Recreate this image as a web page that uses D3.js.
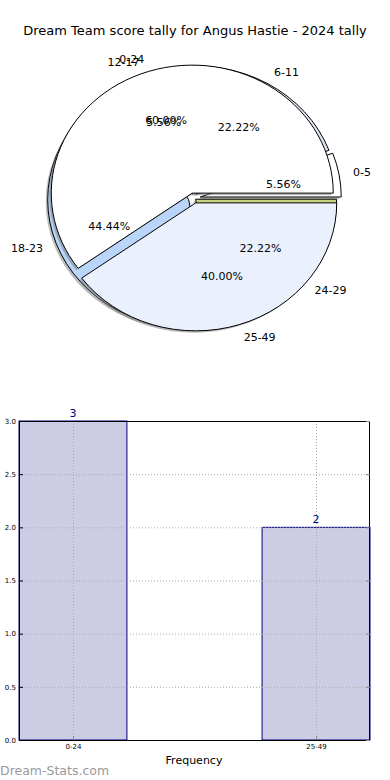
<!DOCTYPE html>
<html><head><meta charset="utf-8">
<script src="https://cdn.jsdelivr.net/npm/d3@7/dist/d3.min.js"></script>
<style>body{margin:0;background:#fff}svg{display:block;font-family:"DejaVu Sans",sans-serif}</style>
</head><body>
<svg id="c" width="390" height="780"></svg>
<script>
const title = "Dream Team score tally for Angus Hastie - 2024 tally";
// fine bins pie (drawn underneath)
const fineLabels = ["0-5","6-11","12-17","18-23","24-29"];
const fineValues = [1,4,1,8,4];
const fineExplode = [0.045,0.035,0.03,0.04,0.015];
const fineColors = ["#ffffff","#dde6f2","#e4e4f2","#b9d5fa","#c9d27c"];
// coarse bins pie (drawn on top)
const coarseLabels = ["0-24","25-49"];
const coarseValues = [3,2];
const coarseExplode = [0.04,0.04];
const coarseColors = ["#ffffff","#ebf1fc"];
// bar chart
const barCats = ["0-24","25-49"];
const barValues = [3,2];
const yTicks = [0,0.5,1.0,1.5,2.0,2.5,3.0];

const svg = d3.select("#c");
svg.append("text").attr("x",195).attr("y",35).attr("text-anchor","middle")
  .attr("font-size",13).attr("fill","#000").text(title);

const cx = 194, cy = 198, rx = 141, ry = 128;
const sy = ry/rx;
const pieGen = d3.pie().sort(null).startAngle(Math.PI/2).endAngle(Math.PI/2 - 2*Math.PI);
const arc = d3.arc().innerRadius(0).outerRadius(rx);
const pieLayer = svg.append("g");
const shadowLayer1 = pieLayer.append("g").attr("transform",`translate(${cx-2},${cy+2}) scale(1,${sy})`);
const fineLayer = pieLayer.append("g").attr("transform",`translate(${cx},${cy}) scale(1,${sy})`);
const shadowLayer2 = pieLayer.append("g").attr("transform",`translate(${cx-2},${cy+2}) scale(1,${sy})`);
const coarseLayer = pieLayer.append("g").attr("transform",`translate(${cx},${cy}) scale(1,${sy})`);
const textLayer = pieLayer.append("g");

function drawPie(values, labels, explode, colors, layer, shadowLayer){
  const arcs = pieGen(values);
  const total = d3.sum(values);
  arcs.forEach((a,i)=>{
    const mid = (a.startAngle+a.endAngle)/2;
    const ux = Math.sin(mid), uy = -Math.cos(mid);
    const e = explode[i];
    shadowLayer.append("path").attr("d",arc(a))
      .attr("transform",`translate(${ux*e*rx},${uy*e*rx})`)
      .attr("fill","#777").attr("fill-opacity",0.5);
    layer.append("path").attr("d",arc(a))
      .attr("transform",`translate(${ux*e*rx},${uy*e*rx})`)
      .attr("fill",colors[i]).attr("stroke","#000").attr("stroke-width",1)
      .attr("vector-effect","non-scaling-stroke").attr("stroke-linejoin","round");
    const ld = 1.1 + e, pd = 0.6 + e;
    textLayer.append("text")
      .attr("x", cx + ux*ld*rx).attr("y", cy + uy*ld*ry)
      .attr("dy","0.35em").attr("font-size",11)
      .attr("text-anchor", ux > 0 ? "start" : "end")
      .text(labels[i]);
    textLayer.append("text")
      .attr("x", cx + ux*pd*rx).attr("y", cy + uy*pd*ry)
      .attr("dy","0.35em").attr("font-size",11).attr("text-anchor","middle")
      .text((values[i]/total*100).toFixed(2)+"%");
  });
}
drawPie(fineValues, fineLabels, fineExplode, fineColors, fineLayer, shadowLayer1);
drawPie(coarseValues, coarseLabels, coarseExplode, coarseColors, coarseLayer, shadowLayer2);

// bar chart
const L = 19, R = 370, T = 421, B = 740;
const x = d3.scaleLinear().domain([-0.222, 1.222]).range([L, R]);
const y = d3.scaleLinear().domain([0, 3]).range([B, T]);
const bw = 0.444;
const g = svg.append("g");
g.selectAll("rect.bar").data(barValues).join("rect").attr("class","bar")
  .attr("x",(d,i)=>x(i-bw/2)).attr("width",(d,i)=>x(i+bw/2)-x(i-bw/2))
  .attr("y",d=>y(d)).attr("height",d=>y(0)-y(d))
  .attr("fill","#ccccE4").attr("stroke","#000080").attr("stroke-width",1);
g.selectAll("line.hg").data(yTicks).join("line").attr("class","hg")
  .attr("x1",L).attr("x2",R).attr("y1",d=>y(d)+0.5).attr("y2",d=>y(d)+0.5)
  .attr("stroke","#aaaaaa").attr("stroke-dasharray","1,2").attr("stroke-width",1);
g.selectAll("line.vg").data(barCats).join("line").attr("class","vg")
  .attr("x1",(d,i)=>Math.round(x(i))+0.5).attr("x2",(d,i)=>Math.round(x(i))+0.5).attr("y1",T).attr("y2",B)
  .attr("stroke","#aaaaaa").attr("stroke-dasharray","1,2").attr("stroke-width",1);
g.append("rect").attr("x",L+0.5).attr("y",T+0.5).attr("width",R-L-1).attr("height",B-T)
  .attr("fill","none").attr("stroke","#000").attr("stroke-width",1);
const yAxis = d3.axisLeft(y).tickValues(yTicks).tickFormat(d3.format(".1f")).tickSizeInner(-4).tickSizeOuter(0).tickPadding(3);
const ya = g.append("g").attr("transform",`translate(${L},0)`).call(yAxis);
ya.select(".domain").remove();
ya.selectAll("text").attr("font-size",7).attr("font-family","DejaVu Sans");
ya.selectAll("line").attr("stroke","#000");
const yAxisR = d3.axisRight(y).tickValues(yTicks).tickFormat("").tickSizeInner(-4).tickSizeOuter(0);
const yr = g.append("g").attr("transform",`translate(${R},0)`).call(yAxisR);
yr.select(".domain").remove(); yr.selectAll("line").attr("stroke","#888");
const xAxis = d3.axisBottom(x).tickValues([0,1]).tickFormat((d)=>barCats[d]).tickSizeInner(-4).tickSizeOuter(0).tickPadding(4);
const xa = g.append("g").attr("transform",`translate(0,${B})`).call(xAxis);
xa.select(".domain").remove();
xa.selectAll("text").attr("font-size",7).attr("font-family","DejaVu Sans");
xa.selectAll("line").attr("stroke","#888");
g.selectAll("text.val").data(barValues).join("text").attr("class","val")
  .attr("x",(d,i)=>x(i)).attr("y",d=>y(d)-4).attr("text-anchor","middle")
  .attr("font-size",11).attr("fill","#000080").text(d=>d);
svg.append("text").attr("x",194).attr("y",764).attr("text-anchor","middle")
  .attr("font-size",11).text("Frequency");
svg.append("text").attr("x",0).attr("y",775).attr("font-size",12.5)
  .attr("fill","#999").text("Dream-Stats.com");
</script>
</body></html>
